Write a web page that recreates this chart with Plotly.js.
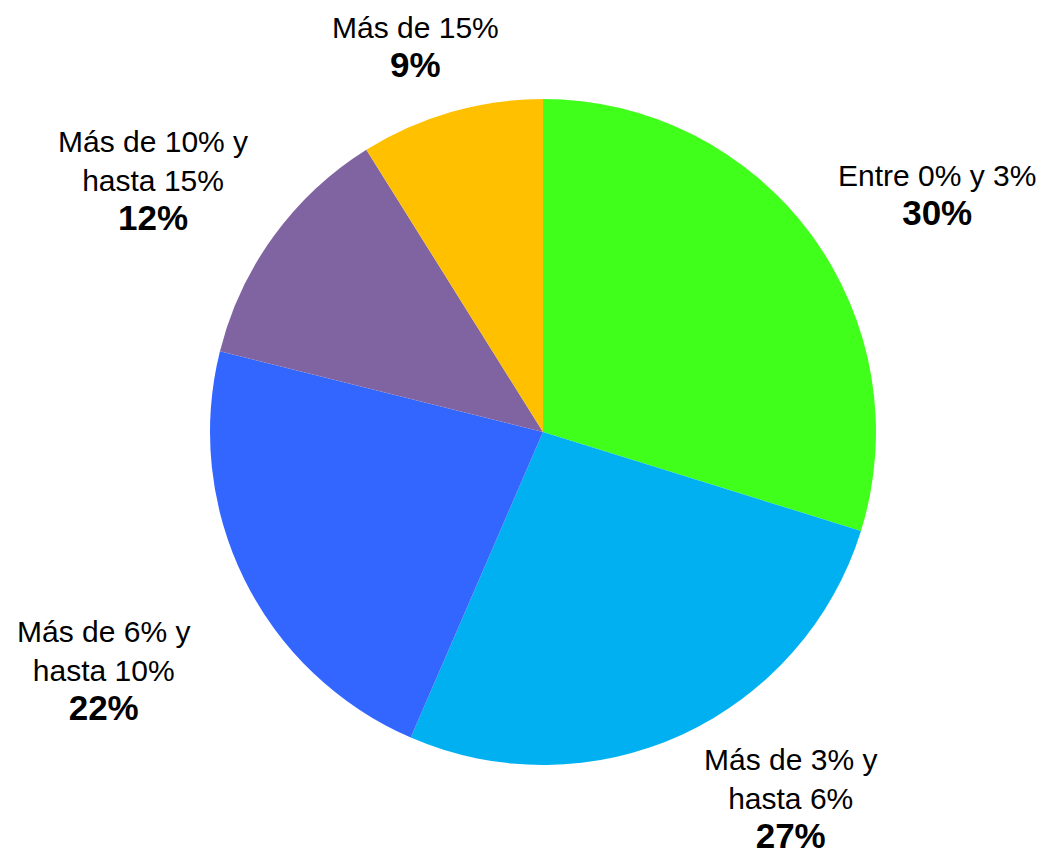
<!DOCTYPE html>
<html>
<head>
<meta charset="utf-8">
<script src="https://cdn.plot.ly/plotly-3.0.1.min.js"></script>
<style>
  html, body { margin: 0; padding: 0; background: #fff; }
  #chart { width: 1045px; height: 858px; }
</style>
</head>
<body>
<div id="chart"></div>
<script>
const categories = ['Entre 0% y 3%', 'Más de 3% y<br>hasta 6%', 'Más de 6% y<br>hasta 10%', 'Más de 10% y<br>hasta 15%', 'Más de 15%'];
// shares; the labels show them rounded
const values = [29.8, 26.7, 22.4, 12.2, 8.9];
const colors = ['#40FF1A', '#00B0F0', '#3366FF', '#8064A2', '#FFC000'];

// label block centres, in pixels of the 1045x858 page
const labelPos = [[937, 195], [790, 799], [103, 671], [153, 181], [415, 48]];

const W = 1045, H = 858;
const cx = 543, cy = 432, r = 333;

const annotations = categories.map((c, i) => ({
    x: labelPos[i][0] / W,
    y: 1 - labelPos[i][1] / H,
    xref: 'paper', yref: 'paper',
    xanchor: 'center', yanchor: 'middle',
    showarrow: false,
    align: 'center',
    text: c + '<br><span style="font-size:35px"><b>' + Math.round(values[i]) + '%</b></span>',
    font: {family: 'Liberation Sans, Arial, sans-serif', size: 30, color: '#000'}
}));

const data = [{
    type: 'pie',
    labels: categories,
    values: values,
    sort: false,
    direction: 'clockwise',
    rotation: 0,
    textinfo: 'none',
    hoverinfo: 'label+percent',
    marker: {colors: colors, line: {width: 0}},
    domain: {x: [(cx - r) / W, (cx + r) / W], y: [1 - (cy + r) / H, 1 - (cy - r) / H]}
}];

const layout = {
    width: W,
    height: H,
    margin: {l: 0, r: 0, t: 0, b: 0},
    showlegend: false,
    paper_bgcolor: '#fff',
    annotations: annotations
};

Plotly.newPlot('chart', data, layout, {staticPlot: true});
</script>
</body>
</html>
